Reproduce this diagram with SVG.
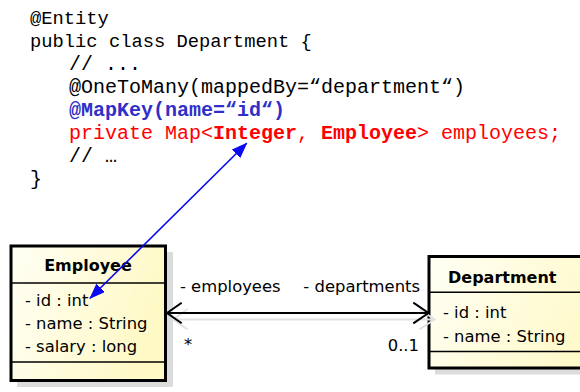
<svg xmlns="http://www.w3.org/2000/svg" width="580" height="392" viewBox="0 0 580 392">
<defs>
<linearGradient id="fill" x1="0" y1="0" x2="1" y2="0.3">
<stop offset="0" stop-color="#fffff4"/>
<stop offset="1" stop-color="#fff9c6"/>
</linearGradient>
<marker id="blueHead" viewBox="0 0 16 12" refX="15" refY="6" markerWidth="16" markerHeight="12" markerUnits="userSpaceOnUse" orient="auto-start-reverse">
<path d="M0,0 L16,6 L0,12 Z" fill="#0a0af0"/>
</marker>
</defs>
<style>
.code{font-family:"Liberation Mono","Courier New",monospace;font-size:20px;fill:#000;}
.b{font-weight:bold;}
.blue{fill:#3030c8;}
.red{fill:#ff0000;}
.uml{font-family:"DejaVu Sans",Verdana,sans-serif;font-size:16.4px;fill:#000;}
.title{font-weight:bold;font-size:16px;}
.box{fill:url(#fill);stroke:#000;stroke-width:3;}
.shadow{fill:#dcdcdc;}
.sep{stroke:#000;stroke-width:1.5;}
.conn{fill:none;stroke:#000;stroke-width:2;}
.connShadow{fill:none;stroke:#e2e2e2;stroke-width:2;}
</style>

<g id="code">
<text class="code" x="30" y="24" style="font-size:18.8px">@Entity</text>
<text class="code" x="30" y="46.5" style="font-size:18.8px">public class Department {</text>
<text class="code" x="69" y="69.5">// ...</text>
<text class="code" x="69" y="92.5">@OneToMany(mappedBy=“department“)</text>
<text class="code b blue" x="69" y="116">@MapKey(name=“id“)</text>
<text class="code red" x="69" y="139">private Map&lt;<tspan class="b">Integer</tspan>, <tspan class="b">Employee</tspan>&gt; employees;</text>
<text class="code" x="69" y="162">// …</text>
<text class="code" x="30" y="185">}</text>
</g>

<g id="employee">
<rect class="shadow" x="17" y="252" width="156" height="135"/>
<rect class="box" x="11" y="246" width="154.5" height="134.5"/>
<line class="sep" x1="11" y1="283" x2="165.5" y2="283"/>
<line class="sep" x1="11" y1="362" x2="165.5" y2="362"/>
<text class="uml title" x="88" y="271" text-anchor="middle">Employee</text>
<text class="uml" x="25" y="306">- id : int</text>
<text class="uml" x="25" y="329">- name : String</text>
<text class="uml" x="25" y="352">- salary : long</text>
</g>

<g id="department">
<rect class="shadow" x="435" y="262.5" width="200" height="112"/>
<rect class="box" x="429" y="256.5" width="200" height="111.5"/>
<line class="sep" x1="429" y1="292.3" x2="629" y2="292.3"/>
<line class="sep" x1="429" y1="351.5" x2="629" y2="351.5"/>
<text class="uml title" x="448" y="282.7">Department</text>
<text class="uml" x="443" y="318.3">- id : int</text>
<text class="uml" x="443" y="341.7">- name : String</text>
</g>

<g id="connectors">
<path class="connShadow" d="M187.7,309 L173,319.5 L187.7,329.5 M173,319.5 L434.5,319.5 M419.3,309 L434.5,319.5 L419.3,329.5"/>
<path class="conn" d="M181.7,302.7 L167,313 L181.7,323.3 M167,313 L428.5,313 M413.3,302.7 L428.5,313 L413.3,323.3"/>
<line x1="90" y1="298.3" x2="246.7" y2="143.3" stroke="#0a0af0" stroke-width="1.6" marker-start="url(#blueHead)" marker-end="url(#blueHead)"/>
<text class="uml" x="180" y="291.7">- employees</text>
<text class="uml" x="420" y="291.7" text-anchor="end">- departments</text>
<text class="uml" x="184" y="350">*</text>
<text class="uml" x="419" y="350.5" text-anchor="end">0..1</text>
</g>
</svg>
